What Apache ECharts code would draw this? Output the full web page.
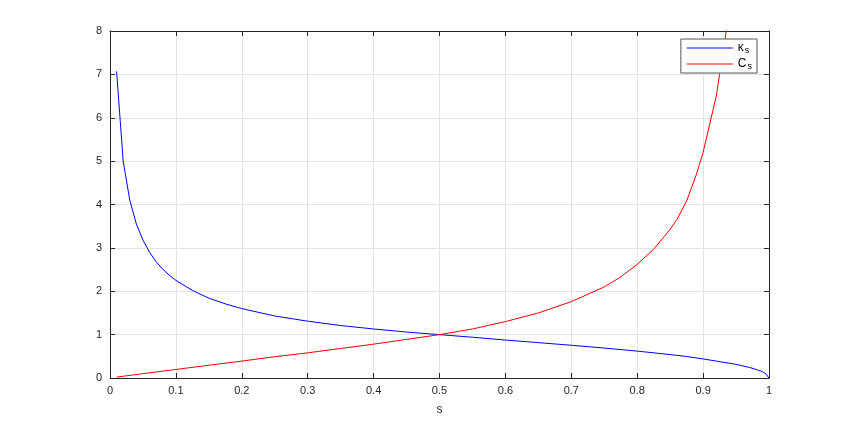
<!DOCTYPE html>
<html><head><meta charset="utf-8">
<script src="https://cdn.jsdelivr.net/npm/echarts@6/dist/echarts.min.js"></script>
<style>html,body{margin:0;padding:0;background:#fff}#c{width:850px;height:425px}</style>
</head><body><div id="c"></div>
<script>
var xTicks = [0,0.1,0.2,0.3,0.4,0.5,0.6,0.7,0.8,0.9,1];
var yTicks = [0,1,2,3,4,5,6,7,8];
var sKappa = [0.01,0.02,0.03,0.04,0.05,0.06,0.07,0.08,0.09,0.1,0.125,0.15,0.175,0.2,0.25,0.3,0.35,0.4,0.45,0.5,0.55,0.6,0.65,0.7,0.75,0.8,0.85,0.875,0.9,0.92,0.94,0.95,0.96,0.97,0.98,0.99,0.995,1.0];
var kappa  = [7.07,5.0,4.1,3.55,3.18,2.9,2.68,2.51,2.37,2.25,2.02,1.84,1.71,1.6,1.43,1.31,1.21,1.13,1.06,1.0,0.94,0.875,0.815,0.755,0.69,0.62,0.54,0.495,0.44,0.39,0.34,0.315,0.28,0.245,0.2,0.145,0.1,0.0];
var sC = [0.01,0.02,0.05,0.1,0.15,0.2,0.25,0.3,0.35,0.4,0.45,0.5,0.55,0.6,0.65,0.7,0.75,0.775,0.8,0.825,0.85,0.86,0.875,0.89,0.9,0.91,0.92,0.925,0.93,0.935,0.94,0.945];
var cVals = [0.02,0.04,0.1,0.197,0.295,0.39,0.49,0.58,0.68,0.78,0.89,1.0,1.13,1.3,1.5,1.76,2.1,2.33,2.62,2.97,3.43,3.65,4.08,4.7,5.2,5.85,6.5,7.0,7.45,8.0,8.6,9.2];
var names = ['κs','Cs'];

function pairs(xs, ys){ return xs.map(function(x,i){return [x, ys[i]];}); }
var axisCol = '#262626';
var chart = echarts.init(document.getElementById('c'), null, {renderer:'canvas'});
chart.setOption({
  animation:false,
  grid:{left:110,right:81,top:31,bottom:47,containLabel:false},
  legend:{
    orient:'vertical', right:93, top:39,
    backgroundColor:'#fff', borderColor:'#555', borderWidth:1,
    padding:[2,5,2,6], itemGap:2, itemWidth:46, itemHeight:1, icon:'rect',
    data:names,
    formatter:function(n){ return n==='κs' ? '{a|κ}{b|s}' : '{a|C}{b|s}'; },
    textStyle:{ color:'#000', fontFamily:'Liberation Sans', rich:{
      a:{fontSize:12, lineHeight:14, fontFamily:'Liberation Sans', color:'#000'},
      b:{fontSize:9, lineHeight:14, padding:[5,0,0,1], fontFamily:'Liberation Sans', color:'#000'}
    }}
  },
  xAxis:[{
    type:'value', min:0, max:1, interval:0.1, position:'bottom',
    name:'s', nameLocation:'middle', nameGap:26,
    nameTextStyle:{fontSize:12, color:axisCol, fontFamily:'Liberation Sans'},
    axisLine:{show:true, onZero:false, lineStyle:{color:axisCol, width:1}},
    axisTick:{show:true, inside:true, length:5, lineStyle:{color:axisCol}},
    axisLabel:{fontSize:11, color:axisCol, margin:7, fontFamily:'Liberation Sans',
      formatter:function(v){ var t = xTicks.filter(function(k){return Math.abs(k-v)<1e-9;}); return t.length? String(t[0]) : ''; }},
    splitLine:{show:true, lineStyle:{color:'#e3e3e3', width:1}}
  },{
    type:'value', min:0, max:1, interval:0.1, position:'top',
    axisLine:{show:true, onZero:false, lineStyle:{color:axisCol, width:1}},
    axisTick:{show:true, inside:true, length:5, lineStyle:{color:axisCol}},
    axisLabel:{show:false}, splitLine:{show:false}
  }],
  yAxis:[{
    type:'value', min:0, max:8, interval:1, position:'left',
    axisLine:{show:true, onZero:false, lineStyle:{color:axisCol, width:1}},
    axisTick:{show:true, inside:true, length:5, lineStyle:{color:axisCol}},
    axisLabel:{fontSize:11, color:axisCol, margin:8, fontFamily:'Liberation Sans',
      formatter:function(v){ var t = yTicks.filter(function(k){return Math.abs(k-v)<1e-9;}); return t.length? String(t[0]) : ''; }},
    splitLine:{show:true, lineStyle:{color:'#e3e3e3', width:1}}
  },{
    type:'value', min:0, max:8, interval:1, position:'right',
    axisLine:{show:true, onZero:false, lineStyle:{color:axisCol, width:1}},
    axisTick:{show:true, inside:true, length:5, lineStyle:{color:axisCol}},
    axisLabel:{show:false}, splitLine:{show:false}
  }],
  series:[{
    name:names[0], type:'line', xAxisIndex:0, yAxisIndex:0,
    data:pairs(sKappa, kappa), showSymbol:false, smooth:false, clip:true,
    lineStyle:{color:'#0000ff', width:1}, itemStyle:{color:'#0000ff'}
  },{
    name:names[1], type:'line', xAxisIndex:0, yAxisIndex:0,
    data:pairs(sC, cVals), showSymbol:false, smooth:false, clip:true,
    lineStyle:{color:'#ff0000', width:1}, itemStyle:{color:'#ff0000'}
  }]
});
</script></body></html>
